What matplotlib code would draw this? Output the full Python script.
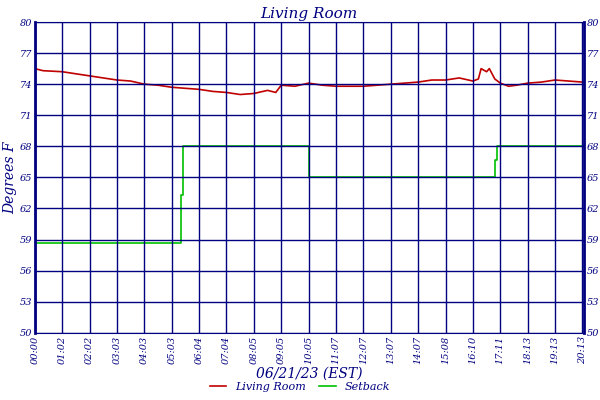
import matplotlib
matplotlib.use("Agg")
from matplotlib import pyplot as plt

navy = "#000080"

# hours since midnight
temp_hours = [0.0, 0.3, 1.0, 1.5, 2.0, 2.5, 3.0, 3.5, 4.0, 4.5, 5.0, 5.5, 6.0, 6.5,
              7.0, 7.5, 8.0, 8.5, 8.8, 9.0, 9.5, 10.0, 10.5, 11.0, 12.0, 12.5, 13.0,
              13.5, 14.0, 14.5, 15.0, 15.5, 16.0, 16.2, 16.3, 16.5, 16.6, 16.8, 17.0,
              17.3, 17.6, 18.0, 18.5, 19.0, 19.5, 20.0, 20.1]
temp_values = [75.5, 75.3, 75.2, 75.0, 74.8, 74.6, 74.4, 74.3, 74.0, 73.9, 73.7, 73.6,
               73.5, 73.3, 73.2, 73.0, 73.1, 73.4, 73.2, 73.9, 73.8, 74.1, 73.9, 73.8,
               73.8, 73.9, 74.0, 74.1, 74.2, 74.4, 74.4, 74.6, 74.3, 74.5, 75.5, 75.2,
               75.5, 74.5, 74.1, 73.8, 73.9, 74.1, 74.2, 74.4, 74.3, 74.2, 74.2]

setback_hours = [0.0, 5.35, 5.35, 5.42, 5.42, 10.0, 10.0, 16.82, 16.82, 16.88, 16.88, 20.1]
setback_values = [58.7, 58.7, 63.3, 63.3, 68.0, 68.0, 65.0, 65.0, 66.7, 66.7, 68.0, 68.0]

tick_hours = list(range(21))
tick_labels = ["00:00", "01:02", "02:02", "03:03", "04:03", "05:03", "06:04", "07:04",
               "08:05", "09:05", "10:05", "11:07", "12:07", "13:07", "14:07", "15:08",
               "16:10", "17:11", "18:13", "19:13", "20:13"]
y_ticks = [50, 53, 56, 59, 62, 65, 68, 71, 74, 77, 80]

font = {"family": "DejaVu Serif", "style": "italic", "color": navy}

fig = plt.figure(figsize=(6, 4), dpi=100)
ax = fig.add_axes([0.058, 0.168, 0.915, 0.777])
ax.plot(temp_hours, temp_values, color="#c00000", lw=1.2, label="Living Room", zorder=1)
ax.plot(setback_hours, setback_values, color="#00c000", lw=1.2, label="Setback", zorder=1)
ax.set_xlim(0, 20.05)
ax.set_ylim(50, 80)
ax.set_xticks(tick_hours)
ax.set_xticklabels(tick_labels, rotation=90, fontsize=7, **font)
ax.set_yticks(y_ticks)
ax.set_yticklabels([str(v) for v in y_ticks], fontsize=7, **font)
ax.tick_params(length=0, pad=2, right=True, labelright=True)
ax.grid(True, color=navy, lw=1, zorder=3)
ax.set_axisbelow(False)
for s in ax.spines.values():
    s.set_color(navy)
ax.spines["left"].set_linewidth(2)
ax.spines["right"].set_linewidth(2)
ax.set_title("Living Room", fontsize=11, pad=3, **font)
ax.set_ylabel("Degrees F", fontsize=10, labelpad=2, **font)
ax.set_xlabel("06/21/23 (EST)", fontsize=10, labelpad=2, **font)
leg = fig.legend(loc="lower center", bbox_to_anchor=(0.5, -0.005), ncol=2, frameon=False,
                 prop={"family": "DejaVu Serif", "style": "italic", "size": 8},
                 handlelength=1.5, columnspacing=1.2)
for t in leg.get_texts():
    t.set_color(navy)
fig.savefig("out.png")
